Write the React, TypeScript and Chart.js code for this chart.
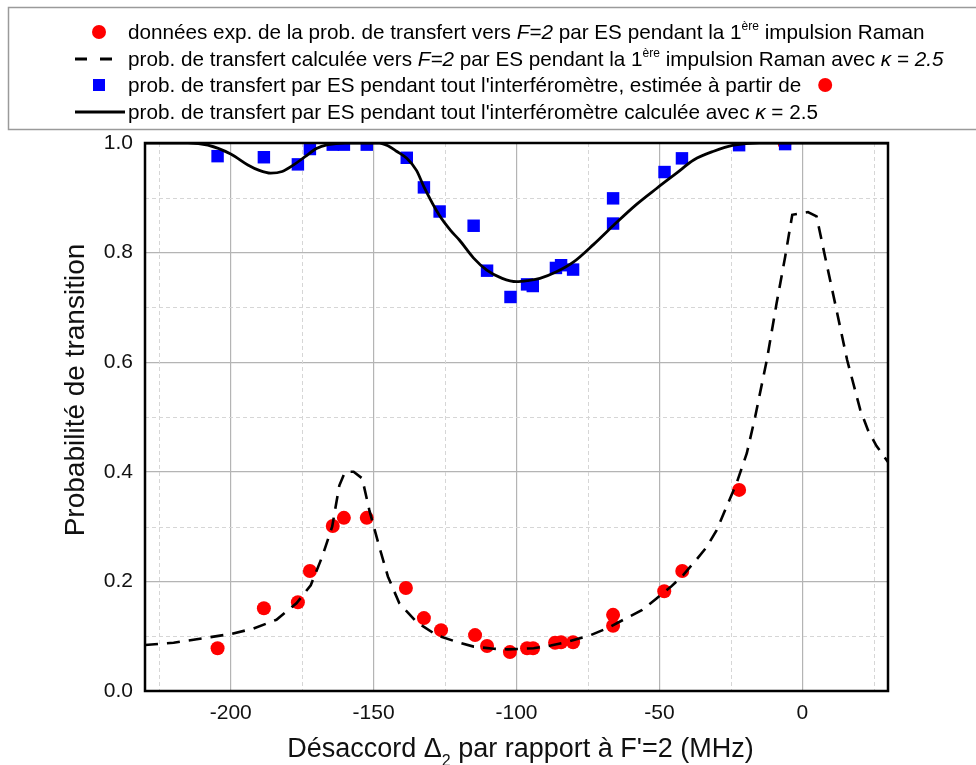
import { useEffect, useRef } from 'react';
import { Chart, registerables } from 'chart.js';

Chart.register(...registerables);

const FONT = '"Liberation Sans", Arial, sans-serif';

// Experimental transfer probability during the 1st Raman pulse (red circles)
const redX = [-204.6, -188.4, -176.5, -172.3, -164.3, -160.4, -152.4, -138.7, -132.4, -126.4, -114.5, -110.3, -102.3, -96.3, -94.2, -86.5, -84.4, -80.2, -66.2, -66.2, -48.3, -42.0, -22.1, -6.2];
const redY = [0.078, 0.151, 0.162, 0.219, 0.301, 0.316, 0.316, 0.188, 0.133, 0.111, 0.102, 0.082, 0.071, 0.078, 0.078, 0.088, 0.089, 0.089, 0.139, 0.119, 0.182, 0.219, 0.367, 1.0];

// Estimated transfer probability over the whole interferometer (blue squares)
const blueX = [-204.6, -188.4, -176.5, -172.3, -164.3, -160.4, -152.4, -138.4, -132.4, -126.9, -115.0, -110.3, -102.1, -96.3, -94.3, -86.2, -84.4, -80.2, -66.2, -66.2, -48.2, -42.1, -22.1, -6.0];
const blueY = [0.976, 0.974, 0.961, 0.989, 0.997, 0.997, 0.997, 0.973, 0.919, 0.875, 0.849, 0.767, 0.719, 0.742, 0.739, 0.772, 0.777, 0.769, 0.899, 0.853, 0.947, 0.972, 0.996, 0.998];

// Calculated transfer probability, 1st Raman pulse (dashed)
const dashX = [-230, -220, -210, -200, -192, -184, -177, -172, -168, -164.5, -162, -160, -157, -154, -151.5, -148, -145, -141, -135, -128, -120, -115, -108, -103, -94, -88, -82, -74, -68, -62.6, -56, -51, -46, -41.6, -37, -33.4, -30, -27.5, -23, -19.4, -16.5, -12.4, -9, -6, -3.5, 2, 5, 8, 12, 15.7, 20.3, 23, 26, 30];
const dashY = [0.084, 0.088, 0.096, 0.104, 0.114, 0.130, 0.160, 0.193, 0.245, 0.300, 0.375, 0.400, 0.400, 0.388, 0.330, 0.263, 0.209, 0.160, 0.126, 0.102, 0.088, 0.081, 0.077, 0.076, 0.078, 0.083, 0.090, 0.102, 0.115, 0.130, 0.148, 0.169, 0.190, 0.212, 0.240, 0.263, 0.293, 0.324, 0.379, 0.434, 0.500, 0.604, 0.707, 0.792, 0.869, 0.874, 0.866, 0.792, 0.695, 0.604, 0.513, 0.476, 0.447, 0.418];

// Calculated transfer probability over the whole interferometer (solid)
const solidX = [-230, -215, -208, -200, -194, -190, -186, -182, -178, -174, -170, -166, -160, -148, -145, -142, -138.4, -135, -132.3, -127, -123, -120, -115, -110.4, -105, -100, -96, -91.8, -86, -80, -73, -66, -58, -51, -44, -38, -31, -24, -15, 30];
const solidY = [1.0, 1.0, 0.996, 0.98, 0.96, 0.95, 0.945, 0.948, 0.96, 0.975, 0.99, 0.997, 1.0, 1.0, 0.995, 0.985, 0.972, 0.95, 0.919, 0.868, 0.84, 0.823, 0.79, 0.768, 0.753, 0.747, 0.749, 0.753, 0.765, 0.783, 0.815, 0.850, 0.888, 0.917, 0.945, 0.969, 0.985, 0.996, 1.0, 1.0];

const xTickValues = [-225, -200, -175, -150, -125, -100, -75, -50, -25, 0, 25];
const yTickValues = [0, 0.1, 0.2, 0.3, 0.4, 0.5, 0.6, 0.7, 0.8, 0.9, 1.0];

const yTitle = 'Probabilité de transition';
const xTitleA = 'Désaccord Δ';
const xTitleSub = '2';
const xTitleB = " par rapport à F'=2 (MHz)";

type Seg = { t: string; i?: boolean; sup?: boolean };
const legendLines: Seg[][] = [
  [{ t: 'données exp. de la prob. de transfert vers ' }, { t: 'F=2', i: true }, { t: ' par ES pendant la 1' }, { t: 'ère', sup: true }, { t: ' impulsion Raman' }],
  [{ t: 'prob. de transfert calculée vers ' }, { t: 'F=2', i: true }, { t: ' par ES pendant la 1' }, { t: 'ère', sup: true }, { t: ' impulsion Raman avec ' }, { t: 'κ = 2.5', i: true }],
  [{ t: "prob. de transfert par ES pendant tout l'interféromètre, estimée à partir de" }],
  [{ t: "prob. de transfert par ES pendant tout l'interféromètre calculée avec " }, { t: 'κ', i: true }, { t: ' = 2.5' }],
];

const isMajorX = (v: number) => Math.abs(v % 50) < 1e-6;
const isMajorY = (v: number) => Math.round(v * 10) % 2 === 0;

const toPts = (xs: number[], ys: number[]) => xs.map((x, i) => ({ x, y: ys[i] }));

function drawRich(ctx: CanvasRenderingContext2D, x: number, baseline: number, segs: Seg[], size: number) {
  let cx = x;
  for (const s of segs) {
    const fs = s.sup ? Math.round(size * 0.58) : size;
    ctx.font = `${s.i ? 'italic ' : ''}${fs}px ${FONT}`;
    const y = s.sup ? baseline - size * 0.45 : baseline;
    ctx.fillText(s.t, cx, y);
    cx += ctx.measureText(s.t).width;
  }
  return cx;
}

const minorGridPlugin = {
  id: 'minorGrid',
  beforeDatasetsDraw(chart: any) {
    const { ctx, chartArea: a, scales } = chart;
    ctx.save();
    ctx.strokeStyle = '#d6d6d6';
    ctx.lineWidth = 1;
    ctx.setLineDash([4, 3]);
    xTickValues.filter((v) => !isMajorX(v)).forEach((v) => {
      const px = Math.round(scales.x.getPixelForValue(v)) + 0.5;
      ctx.beginPath();
      ctx.moveTo(px, a.top);
      ctx.lineTo(px, a.bottom);
      ctx.stroke();
    });
    yTickValues.filter((v) => !isMajorY(v)).forEach((v) => {
      const py = Math.round(scales.y.getPixelForValue(v)) + 0.5;
      ctx.beginPath();
      ctx.moveTo(a.left, py);
      ctx.lineTo(a.right, py);
      ctx.stroke();
    });
    ctx.restore();
  },
};

const framePlugin = {
  id: 'frame',
  afterDatasetsDraw(chart: any) {
    const { ctx, chartArea: a } = chart;
    ctx.save();
    ctx.strokeStyle = '#000';
    ctx.lineWidth = 2.5;
    ctx.strokeRect(a.left, a.top, a.right - a.left, a.bottom - a.top);
    ctx.restore();
  },
};

const textPlugin = {
  id: 'texts',
  afterDraw(chart: any) {
    const { ctx, chartArea: a } = chart;
    ctx.save();
    // legend box (right side runs off the picture)
    ctx.strokeStyle = '#9a9a9a';
    ctx.lineWidth = 1.5;
    ctx.beginPath();
    ctx.moveTo(2000, 7.5);
    ctx.lineTo(8.5, 7.5);
    ctx.lineTo(8.5, 129.5);
    ctx.lineTo(2000, 129.5);
    ctx.stroke();
    ctx.fillStyle = '#000';
    ctx.textBaseline = 'alphabetic';
    ctx.textAlign = 'left';
    const rows = [32, 59, 85, 112];
    const size = 20.7;
    let end3 = 0;
    legendLines.forEach((segs, i) => {
      const e = drawRich(ctx, 128, rows[i] + 7, segs, size);
      if (i === 2) end3 = e;
    });
    // markers
    ctx.fillStyle = '#ff0000';
    ctx.beginPath();
    ctx.arc(99, rows[0], 7, 0, Math.PI * 2);
    ctx.fill();
    ctx.beginPath();
    ctx.arc(end3 + 24, rows[2], 7, 0, Math.PI * 2);
    ctx.fill();
    ctx.strokeStyle = '#000';
    ctx.lineWidth = 3;
    ctx.beginPath();
    ctx.moveTo(75, rows[1]);
    ctx.lineTo(87, rows[1]);
    ctx.moveTo(100, rows[1]);
    ctx.lineTo(112, rows[1]);
    ctx.stroke();
    ctx.fillStyle = '#0000ff';
    ctx.fillRect(93, rows[2] - 6, 12, 12);
    ctx.beginPath();
    ctx.moveTo(75, rows[3]);
    ctx.lineTo(125, rows[3]);
    ctx.stroke();

    // axis titles
    ctx.fillStyle = '#111';
    ctx.font = `28px ${FONT}`;
    ctx.save();
    ctx.translate(84, 390);
    ctx.rotate(-Math.PI / 2);
    ctx.textAlign = 'center';
    ctx.fillText(yTitle, 0, 0);
    ctx.restore();

    const big = `27px ${FONT}`;
    const small = `16px ${FONT}`;
    ctx.font = big;
    const wA = ctx.measureText(xTitleA).width;
    const wB = ctx.measureText(xTitleB).width;
    ctx.font = small;
    const wS = ctx.measureText(xTitleSub).width;
    const total = wA + wS + wB;
    const cx = (a.left + a.right) / 2 + 4;
    let x0 = cx - total / 2;
    const base = 757;
    ctx.textAlign = 'left';
    ctx.font = big;
    ctx.fillText(xTitleA, x0, base);
    x0 += wA;
    ctx.font = small;
    ctx.fillText(xTitleSub, x0, base + 9);
    x0 += wS;
    ctx.font = big;
    ctx.fillText(xTitleB, x0, base);
    ctx.restore();
  },
};

export default function App() {
  const ref = useRef<HTMLCanvasElement>(null);
  useEffect(() => {
    if (!ref.current) return;
    const chart = new Chart(ref.current, {
      type: 'scatter',
      data: {
        datasets: [
          {
            label: 'données exp.',
            data: toPts(redX, redY),
            backgroundColor: '#ff0000',
            borderColor: '#ff0000',
            borderWidth: 0,
            pointStyle: 'circle',
            pointRadius: 7,
            order: 4,
          },
          {
            label: 'estimée',
            data: toPts(blueX, blueY),
            backgroundColor: '#0000ff',
            borderColor: '#0000ff',
            borderWidth: 0,
            pointStyle: 'rect',
            pointRadius: 8.8,
            order: 3,
          },
          {
            label: 'calculée 1ère impulsion',
            data: toPts(dashX, dashY),
            showLine: true,
            borderColor: '#000',
            borderWidth: 2.6,
            borderDash: [13, 9],
            pointRadius: 0,
            tension: 0,
            order: 2,
          },
          {
            label: 'calculée interféromètre',
            data: toPts(solidX, solidY),
            showLine: true,
            borderColor: '#000',
            borderWidth: 2.8,
            pointRadius: 0,
            cubicInterpolationMode: 'monotone',
            order: 1,
          },
        ],
      },
      options: {
        animation: false,
        responsive: true,
        maintainAspectRatio: false,
        events: [],
        layout: { padding: { top: 143, right: 88, left: 0, bottom: 0 } },
        plugins: { legend: { display: false }, tooltip: { enabled: false } },
        scales: {
          x: {
            type: 'linear',
            min: -230,
            max: 30,
            afterBuildTicks: (s: any) => {
              s.ticks = xTickValues.map((v) => ({ value: v }));
            },
            afterFit: (s: any) => {
              s.height = 74;
            },
            ticks: {
              autoSkip: false,
              maxRotation: 0,
              padding: 10,
              color: '#111',
              font: { family: FONT, size: 21 },
              callback: (v: any) => (isMajorX(Number(v)) ? String(v) : ''),
            },
            grid: {
              drawTicks: false,
              color: (c: any) => (c.tick && isMajorX(c.tick.value) ? '#b4b4b4' : 'rgba(0,0,0,0)'),
              lineWidth: 1.2,
            },
            border: { display: false },
          },
          y: {
            type: 'linear',
            min: 0,
            max: 1,
            afterBuildTicks: (s: any) => {
              s.ticks = yTickValues.map((v) => ({ value: v }));
            },
            afterFit: (s: any) => {
              s.width = 145;
            },
            ticks: {
              autoSkip: false,
              padding: 12,
              color: '#111',
              font: { family: FONT, size: 21 },
              callback: (v: any) => (isMajorY(Number(v)) ? Number(v).toFixed(1) : ''),
            },
            grid: {
              drawTicks: false,
              color: (c: any) => (c.tick && isMajorY(c.tick.value) ? '#b4b4b4' : 'rgba(0,0,0,0)'),
              lineWidth: 1.2,
            },
            border: { display: false },
          },
        },
      },
      plugins: [minorGridPlugin, framePlugin, textPlugin],
    } as any);
    return () => chart.destroy();
  }, []);
  return (
    <div style={{ position: 'fixed', left: 0, top: 0, width: 976, height: 765, background: '#fff' }}>
      <canvas ref={ref} />
    </div>
  );
}
